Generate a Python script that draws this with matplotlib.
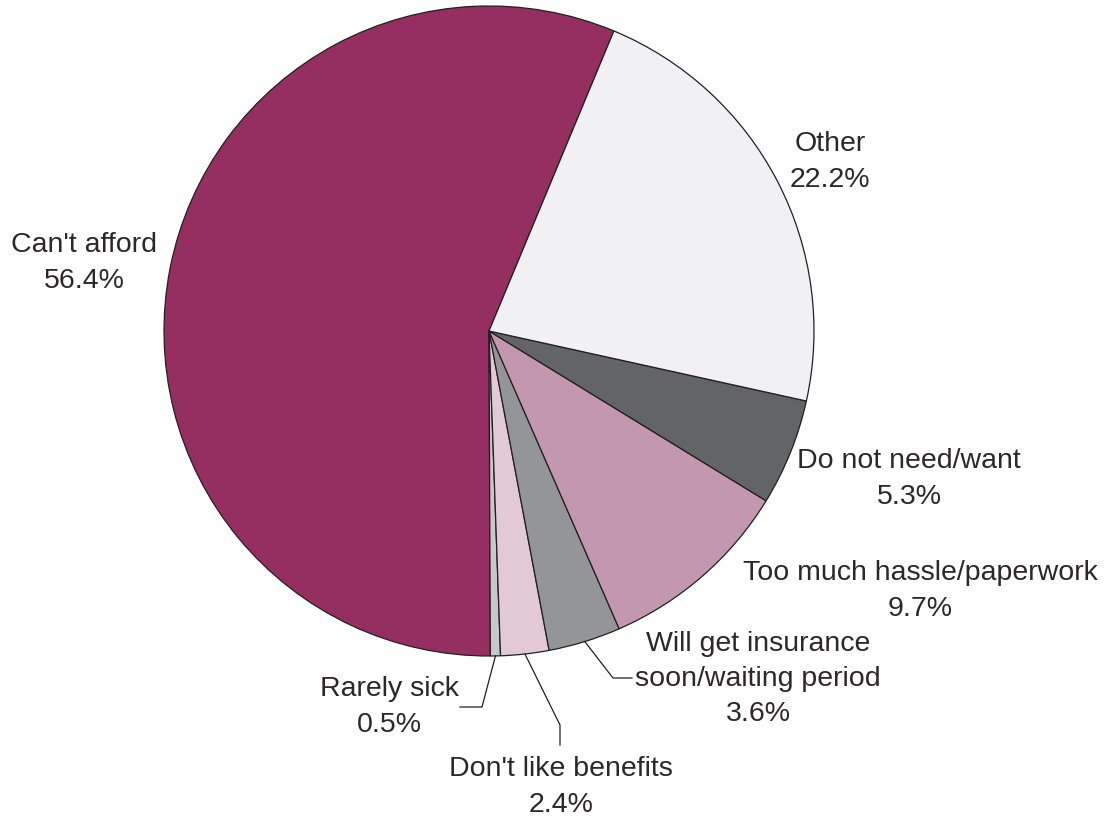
import numpy as np
import matplotlib.pyplot as plt

labels = ["Can't afford", "Rarely sick", "Don't like benefits",
          "Will get insurance\nsoon/waiting period", "Too much hassle/paperwork",
          "Do not need/want", "Other"]
values = [56.4, 0.5, 2.4, 3.6, 9.7, 5.3, 22.2]
colors = ['#952F62', '#C7C8CA', '#E2C9D5', '#939598', '#C497B0', '#636466', '#F1F1F3']

W, H = 1106, 816
fig = plt.figure(figsize=(W / 100, H / 100), dpi=100)
ax = fig.add_axes([0, 0, 1, 1])

cx, cy, r = 489, H - 331, 325
wedges, _ = ax.pie(values, colors=colors, startangle=67.4, counterclock=True,
                   center=(cx, cy), radius=r, frame=True,
                   wedgeprops=dict(edgecolor='#231F20', linewidth=0.9))
ax.set_xlim(0, W)
ax.set_ylim(0, H)
ax.set_aspect('equal')
ax.axis('off')

txt = dict(fontsize=20.5, color='#2B2829', family='Liberation Sans',
           ha='center', va='center', linespacing=1.47)

def edge_point(w):
    a = np.deg2rad((w.theta1 + w.theta2) / 2)
    return cx + r * np.cos(a), cy + r * np.sin(a)

# labels placed outside the pie
ax.text(84, H - 263, "Can't afford\n56.4%", **txt)
ax.text(830, H - 162, "Other\n22.2%", **txt)
ax.text(909, H - 479, "Do not need/want\n5.3%", **txt)
ax.text(920, H - 591, "Too much hassle/paperwork\n9.7%", **txt)
ax.text(758, H - 679, "Will get insurance\nsoon/waiting period\n3.6%", **txt)
ax.text(389, H - 707, "Rarely sick\n0.5%", **txt)
ax.text(561, H - 787, "Don't like benefits\n2.4%", **txt)

# leader lines for the small slices
line = dict(color='#231F20', lw=0.9)
x0, y0 = edge_point(wedges[1])
ax.plot([x0, 482, 460], [y0, H - 707, H - 707], **line)
x0, y0 = edge_point(wedges[2])
ax.plot([x0, 560, 560], [y0, H - 725, H - 745], **line)
x0, y0 = edge_point(wedges[3])
ax.plot([x0, 613, 632], [y0, H - 678, H - 678], **line)

fig.savefig('out.png', dpi=100, facecolor='white')
